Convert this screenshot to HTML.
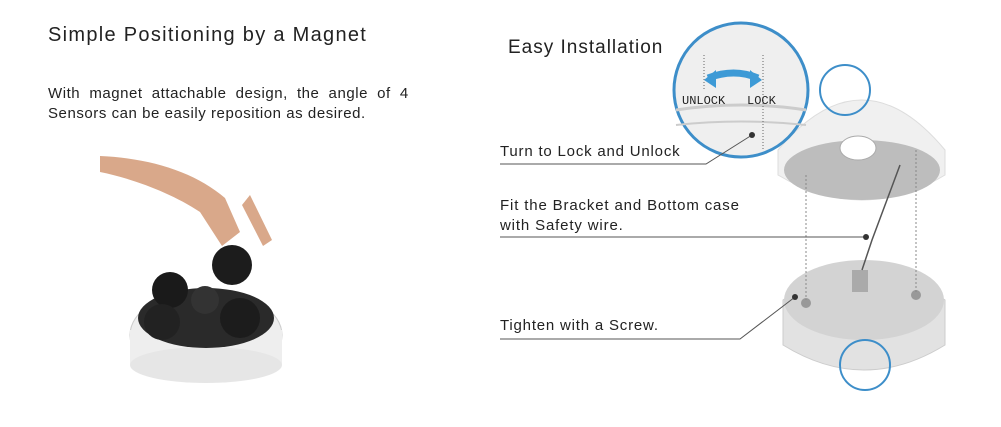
<!DOCTYPE html>
<html><head><style>
body{margin:0;background:#fff;}
.t{position:absolute;font-family:"Liberation Sans",sans-serif;color:#222;white-space:nowrap;}
</style></head><body>
<div style="position:relative;width:1001px;height:427px;overflow:hidden;background:#fff">
<div class="t" style="left:48px;top:24px;font-size:20px;letter-spacing:1.3px;">Simple Positioning by a Magnet</div>
<div class="t" style="left:48px;top:84px;font-size:15px;line-height:20px;letter-spacing:0.55px;word-spacing:4.4px;">With magnet attachable design, the angle of 4</div>
<div class="t" style="left:48px;top:104px;font-size:15px;line-height:20px;letter-spacing:0.55px;">Sensors can be easily reposition as desired.</div>
<div class="t" style="left:508px;top:37px;font-size:19px;letter-spacing:1px;">Easy Installation</div>
<div class="t" style="left:500px;top:143px;font-size:15px;letter-spacing:0.8px;">Turn to Lock and Unlock</div>
<div class="t" style="left:500px;top:196px;font-size:15px;line-height:20px;letter-spacing:0.85px;">Fit the Bracket and Bottom case<br>with Safety wire.</div>
<div class="t" style="left:500px;top:317px;font-size:15px;letter-spacing:0.8px;">Tighten with a Screw.</div>
<svg width="1001" height="427" style="position:absolute;left:0;top:0">
<path d="M100 156 C150 158 195 172 225 198 L240 232 L222 246 L200 212 C170 192 130 178 100 172Z" fill="#d9a88a"/>
<path d="M250 195 L272 240 L263 246 L242 205Z" fill="#d9a88a"/>
<ellipse cx="206" cy="335" rx="76" ry="45" fill="#eee" stroke="#ccc"/>
<rect x="130" y="330" width="152" height="35" fill="#eee"/>
<ellipse cx="206" cy="365" rx="76" ry="18" fill="#e6e6e6"/>
<ellipse cx="206" cy="318" rx="68" ry="30" fill="#2a2a2a"/>
<circle cx="170" cy="290" r="18" fill="#1a1a1a"/>
<circle cx="162" cy="322" r="18" fill="#222"/>
<circle cx="232" cy="265" r="20" fill="#1c1c1c"/>
<circle cx="240" cy="318" r="20" fill="#1c1c1c"/>
<circle cx="205" cy="300" r="14" fill="#333"/>
<path d="M778 150 Q862 50 945 150 L945 175 Q862 225 778 175Z" fill="#f0f0f0" stroke="#ddd"/>
<ellipse cx="862" cy="170" rx="78" ry="30" fill="#bdbdbd"/>
<ellipse cx="858" cy="148" rx="18" ry="12" fill="#fff" stroke="#aaa"/>
<path d="M783 300 Q864 240 945 300 L945 345 Q864 395 783 345Z" fill="#e2e2e2" stroke="#ccc"/>
<ellipse cx="864" cy="300" rx="80" ry="40" fill="#d3d3d3"/>
<rect x="852" y="270" width="16" height="22" fill="#aaa"/>
<circle cx="806" cy="303" r="5" fill="#999"/><circle cx="916" cy="295" r="5" fill="#999"/>
<line x1="806" y1="175" x2="806" y2="300" stroke="#888" stroke-dasharray="2,2"/>
<line x1="916" y1="150" x2="916" y2="292" stroke="#888" stroke-dasharray="2,2"/>
<path d="M900 165 L872 240 L862 270" stroke="#555" fill="none" stroke-width="1.5"/>
<circle cx="741" cy="90" r="67" fill="#efefef" stroke="#3d8ec9" stroke-width="3"/>
<path d="M676 110 Q741 100 806 110" stroke="#ccc" fill="none" stroke-width="3"/>
<path d="M676 125 Q741 118 806 125" stroke="#ccc" fill="none" stroke-width="2"/>
<line x1="704" y1="55" x2="704" y2="90" stroke="#666" stroke-dasharray="1,2"/>
<line x1="763" y1="55" x2="763" y2="150" stroke="#666" stroke-dasharray="1,2"/>
<path d="M708 78 Q734 68 758 78" stroke="#3d9ad6" stroke-width="7" fill="none"/>
<polygon points="704,80 716,70 716,88" fill="#3d9ad6"/>
<polygon points="762,80 750,70 750,88" fill="#3d9ad6"/>
<text x="682" y="104" font-family="Liberation Mono,monospace" font-size="12" fill="#222">UNLOCK</text>
<text x="747" y="104" font-family="Liberation Mono,monospace" font-size="12" fill="#222">LOCK</text>
<circle cx="845" cy="90" r="25" fill="none" stroke="#3d8ec9" stroke-width="2"/>
<circle cx="865" cy="365" r="25" fill="none" stroke="#3d8ec9" stroke-width="2"/>
<polyline points="500,164 706,164 752,135" stroke="#555" fill="none"/>
<circle cx="752" cy="135" r="3" fill="#333"/>
<line x1="500" y1="237" x2="865" y2="237" stroke="#555"/>
<circle cx="866" cy="237" r="3" fill="#333"/>
<polyline points="500,339 740,339 795,297" stroke="#555" fill="none"/>
<circle cx="795" cy="297" r="3" fill="#333"/>
</svg>
</div>
</body></html>
